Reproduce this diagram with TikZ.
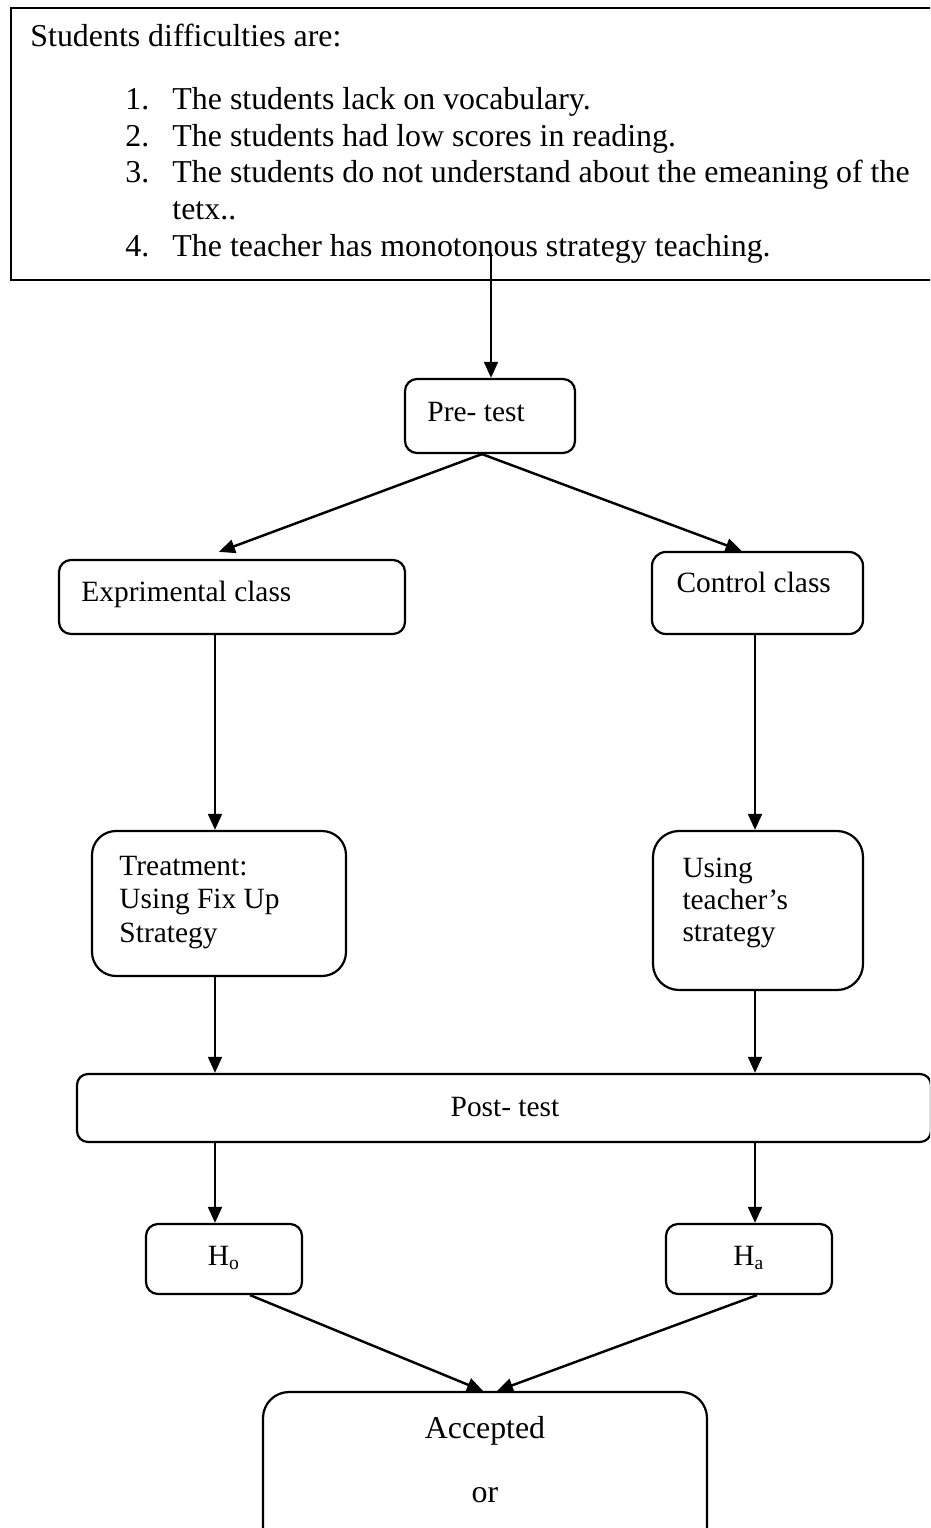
\documentclass[tikz,border=0pt]{standalone}
\usepackage{fontspec}
\setmainfont{Liberation Serif}
\usetikzlibrary{positioning, arrows.meta}
\newlength\pxunit
\setlength\pxunit{0.408pt}

\begin{document}
\begin{tikzpicture}[
    x=0.408pt, y=-0.408pt,
    every node/.style = {font=\fontsize{12}{13.5}\selectfont},
    rbox/.style = {
        draw=black,
        line width=0.9pt,
        rounded corners=#1,
        inner sep=0pt,
    },
    rbox/.default = 12\pxunit,
    flow/.style = {
        draw=black,
        line width=1pt,
        -{Triangle[length=6.5pt, width=5.6pt]},
    },
    txt/.style = {inner sep=0pt, anchor=base west},
    ctxt/.style = {inner sep=0pt, anchor=base},
    big/.style = {font=\fontsize{13}{15}\selectfont},
]
\useasboundingbox (0,0) rectangle (930,1528);
\clip (0,0) rectangle (930,1528);
% problem box
\node [draw=black, line width=0.9pt, anchor=north west, inner sep=0pt,
    minimum width=930\pxunit, minimum height=272\pxunit] (diff) at (10,7) {};
\node [txt, big] (diff-title) at (30,47) {Students difficulties are:};
\foreach \n/\yy/\itemtext in {
    1/110/The students lack on vocabulary.,
    2/147/The students had low scores in reading.,
    3/183/The students do not understand about the emeaning of the,
    4/257/The teacher has monotonous strategy teaching.} {
    \node [txt, big] (num-\n) at (125,\yy) {\n.};
    \node [txt, big] (item-\n) at (172,\yy) {\itemtext};
}
\node [txt, big] (item-3b) at (172,220) {tetx..};
\coordinate (probe) at (491,253);
\coordinate (lcol) at (215,0);
\coordinate (rcol) at (755,0);
% boxes
\node [rbox, minimum width=170\pxunit, minimum height=74\pxunit] (pre) at (490,416) {};
\node [txt] (pre-txt) at (427,421) {Pre- test};
\node [rbox, minimum width=346\pxunit, minimum height=74\pxunit] (expr) at (232,597) {};
\node [txt] (expr-txt) at (81,601) {Exprimental class};
\node [rbox=14\pxunit, minimum width=211\pxunit, minimum height=82\pxunit] (ctrl) at (757.5,593) {};
\node [txt] (ctrl-txt) at (676,592) {Control class};
\node [rbox=24\pxunit, minimum width=254\pxunit, minimum height=145\pxunit] (treat) at (219,903.5) {};
\node [txt] (treat-a) at (119,875) {Treatment:};
\node [txt] (treat-b) at (119,908) {Using Fix Up};
\node [txt] (treat-c) at (119,942) {Strategy};
\node [rbox=26\pxunit, minimum width=210\pxunit, minimum height=159\pxunit] (teach) at (758,910.5) {};
\node [txt] (teach-a) at (682,877) {Using};
\node [txt] (teach-b) at (682,909) {teacher’s};
\node [txt] (teach-c) at (682,941) {strategy};
\node [rbox=11\pxunit, minimum width=854\pxunit, minimum height=68\pxunit] (post) at (504,1108) {};
\node [ctxt] (post-txt) at (505,1116) {Post- test};
\node [rbox, minimum width=156\pxunit, minimum height=70\pxunit] (ho) at (224,1259) {};
\node [ctxt] (ho-txt) at (224,1265) {H\textsubscript{o}};
\node [rbox, minimum width=166\pxunit, minimum height=70\pxunit] (ha) at (749,1259) {};
\node [ctxt] (ha-txt) at (749,1265) {H\textsubscript{a}};
\node [rbox=26\pxunit, minimum width=444\pxunit, minimum height=170\pxunit] (acc) at (485,1477) {};
\node [ctxt, big] (acc-a) at (485,1438) {Accepted};
\node [ctxt, big] (acc-b) at (485,1502) {or};
% connectors
\coordinate (pre-out) at ([xshift=-8\pxunit]pre.south);
\draw [flow] (probe) -- (probe |- pre.north);
\draw [flow] (pre-out) -- ([xshift=-13\pxunit, yshift=7\pxunit]expr.north);
\draw [flow] (pre-out) -- ([xshift=-16\pxunit]ctrl.north);
\draw [flow] (expr.south -| lcol) -- (treat.north -| lcol);
\draw [flow] (ctrl.south -| rcol) -- (teach.north -| rcol);
\draw [flow] (treat.south -| lcol) -- (post.north -| lcol);
\draw [flow] (teach.south -| rcol) -- (post.north -| rcol);
\draw [flow] (post.south -| lcol) -- (ho.north -| lcol);
\draw [flow] (post.south -| rcol) -- (ha.north -| rcol);
\draw [flow] ([xshift=26\pxunit]ho.south) -- ([xshift=-2\pxunit]acc.north);
\draw [flow] ([xshift=8\pxunit]ha.south) -- ([xshift=12\pxunit]acc.north);
\end{tikzpicture}
\end{document}
